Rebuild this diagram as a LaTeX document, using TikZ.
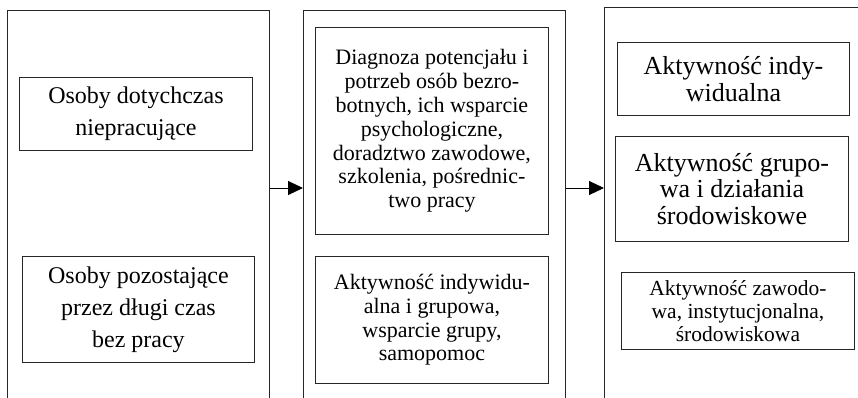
\documentclass[tikz,border=0pt]{standalone}
\usepackage{fontspec}
\setmainfont{Liberation Serif}
\usetikzlibrary{arrows.meta}
\begin{document}
\begin{tikzpicture}[x=1pt,y=-1pt,
  outerbox/.style={draw=black!85, line width=0.9pt, anchor=north west, inner sep=0pt},
  innerbox/.style={draw=black!85, line width=0.9pt, anchor=north west, inner sep=0pt, align=center},
  fbig/.style={font=\fontsize{24}{32}\selectfont},
  fmid/.style={font=\fontsize{22}{23.8}\selectfont},
  fsmall/.style={font=\fontsize{21.5}{23}\selectfont},
  fright/.style={font=\fontsize{26}{26.5}\selectfont},
  arr/.style={draw=black, line width=1pt, -{Triangle[length=15pt,width=14pt]}}]
\useasboundingbox (0,0) rectangle (858,397);
\clip (0,0) rectangle (858,397);
% outer columns
\node[outerbox, minimum width=262pt, minimum height=420pt] (L) at (7,10) {};
\node[outerbox, minimum width=262pt, minimum height=420pt] (M) at (303,10) {};
\node[outerbox, minimum width=280pt, minimum height=420pt] (R) at (604,7) {};
% left column
\node[innerbox, fbig, minimum width=233pt, minimum height=73pt] (l1) at (19,77)
  {Osoby dotychczas\\niepracujące};
\node[innerbox, fbig, minimum width=232pt, minimum height=106pt] (l2) at (22,256)
  {Osoby pozostające\\przez długi czas\\bez pracy};
% middle column
\node[innerbox, fmid, minimum width=233pt, minimum height=207pt] (m1) at (315,27)
  {Diagnoza potencjału i\\potrzeb osób bezro-\\botnych, ich wsparcie\\psychologiczne,\\doradztwo zawodowe,\\szkolenia, pośrednic-\\two pracy};
\node[innerbox, fmid, minimum width=233pt, minimum height=127pt] (m2) at (315,256)
  {Aktywność indywidu-\\alna i grupowa,\\wsparcie grupy,\\samopomoc};
% right column
\node[innerbox, fright, minimum width=232pt, minimum height=73pt] (r1) at (617,42)
  {Aktywność indy-\\widualna};
\node[innerbox, fright, minimum width=233pt, minimum height=105pt] (r2) at (615,136)
  {Aktywność grupo-\\wa i działania\\środowiskowe};
\node[innerbox, fsmall, minimum width=233pt, minimum height=77pt] (r3) at (621,272)
  {Aktywność zawodo-\\wa, instytucjonalna,\\środowiskowa};
% arrows
\coordinate (ay) at (0,188);
\draw[arr] (L.east |- ay) -- (M.west |- ay);
\draw[arr] (M.east |- ay) -- (R.west |- ay);
\end{tikzpicture}
\end{document}
